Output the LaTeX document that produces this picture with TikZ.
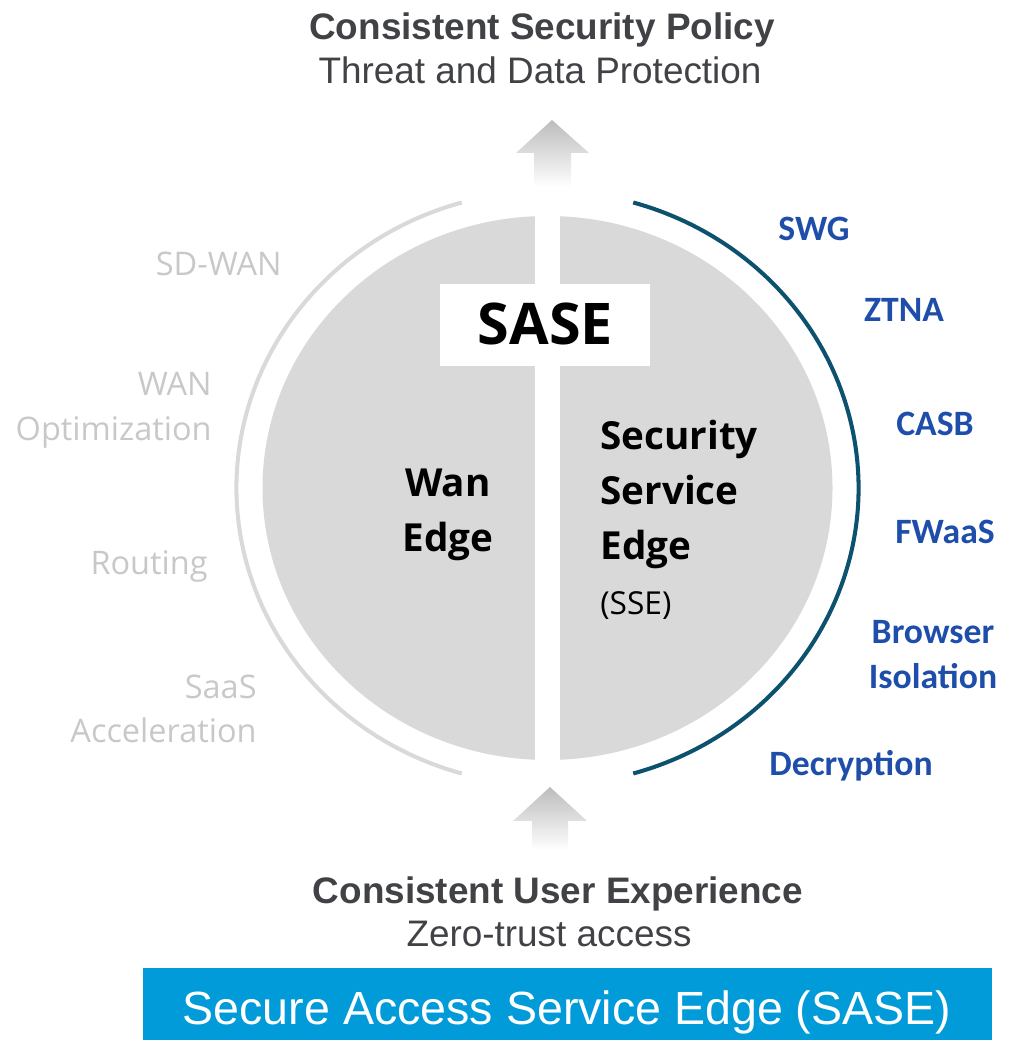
\documentclass[tikz,border=0pt]{standalone}
\usepackage{fontspec}
\setmainfont{Liberation Sans}
\newfontfamily\carl{Carlito}
\newfontfamily\opens{Open Sans}
\definecolor{titlegray}{RGB}{64,66,70}
\definecolor{circgray}{RGB}{217,217,217}
\definecolor{labgray}{RGB}{200,200,200}
\definecolor{ssearc}{RGB}{12,82,110}
\definecolor{sseblue}{RGB}{30,78,170}
\definecolor{arrowgray}{RGB}{188,188,188}
\definecolor{banner}{RGB}{0,155,216}
\begin{document}
\begin{tikzpicture}[x=0.02cm,y=0.02cm,
  titlebold/.style={font=\bfseries\fontsize{21pt}{25pt}\selectfont, text=titlegray, inner sep=0, anchor=base},
  titlereg/.style={font=\fontsize{21pt}{25pt}\selectfont, text=titlegray, inner sep=0, anchor=base},
  ssetool/.style={font=\carl\bfseries\fontsize{20.3pt}{24pt}\selectfont, text=sseblue, inner sep=0, anchor=base},
  wantool/.style={font=\opens\fontsize{18.5pt}{22pt}\selectfont, text=labgray, inner sep=0, anchor=base east},
  corelab/.style={font=\opens\bfseries\fontsize{22pt}{30pt}\selectfont, text=black, inner sep=0},
  uparrow/.style={top color=arrowgray, bottom color=white, draw=none}
]
\useasboundingbox (0,0) rectangle (1011,1040);
\coordinate (c) at (547.5,552);

% circle halves
\fill[circgray] (c) ellipse [x radius=285, y radius=272];
\fill[white] (535,260) rectangle (560,850);

% arcs
\draw[circgray, line width=2.3pt] ([shift={(106:311 and 297)}]c) arc[start angle=106, end angle=254, x radius=311, y radius=297];
\draw[ssearc, line width=2.3pt] ([shift={(-74:311 and 297)}]c) arc[start angle=-74, end angle=74, x radius=311, y radius=297];

% arrows
\shade[uparrow] (534,853) -- (534,887) -- (516,887) -- (552,920) -- (589,887) -- (571,887) -- (571,853) -- cycle;
\shade[uparrow] (532,190) -- (532,219) -- (513,219) -- (550,253) -- (587,219) -- (568,219) -- (568,190) -- cycle;

% SASE box
\fill[white] (440,674) rectangle (650,756);
\node[font=\opens\bfseries\fontsize{32.7pt}{36pt}\selectfont, inner sep=0, anchor=base] (sase) at (545.5,695) {SASE};

% core labels
\node[corelab, anchor=base] (wan1) at (448,543) {Wan};
\node[corelab, anchor=base] (wan2) at (448,488) {Edge};
\node[corelab, anchor=base west] (sse1) at (600,590) {Security};
\node[corelab, anchor=base west] (sse2) at (600,535) {Service};
\node[corelab, anchor=base west] (sse3) at (600,480) {Edge};
\node[font=\opens\fontsize{18pt}{22pt}\selectfont, inner sep=0, anchor=base west] (sse4) at (600,425) {(SSE)};

% titles
\node[titlebold] (top1) at (542,1000) {Consistent Security Policy};
\node[titlereg] (top2) at (540,956) {Threat and Data Protection};
\node[titlebold] (bot1) at (558,136) {Consistent User Experience};
\node[titlereg] (bot2) at (549,93) {Zero-trust access};

% WAN edge capabilities
\node[wantool] (sdwan) at (282,764) {SD-WAN};
\node[wantool] (wano1) at (212,644) {WAN};
\node[wantool] (wano2) at (212,599) {Optimization};
\node[wantool] (routing) at (208,465) {Routing};
\node[wantool] (saas1) at (257,341) {SaaS};
\node[wantool] (saas2) at (257,297) {Acceleration};

% SSE capabilities
\node[ssetool] (swg) at (814,799) {SWG};
\node[ssetool] (ztna) at (904,718) {ZTNA};
\node[ssetool] (casb) at (935,604) {CASB};
\node[ssetool] (fwaas) at (945,496) {FWaaS};
\node[ssetool] (rbi1) at (933,396) {Browser};
\node[ssetool] (rbi2) at (933,351) {Isolation};
\node[ssetool] (decr) at (851,264) {Decryption};

% banner
\fill[banner] (143,0) rectangle (992,72);
\node[font=\fontsize{26.5pt}{30pt}\selectfont, text=white, inner sep=0, anchor=base] (bannertxt) at (567,15) {Secure Access Service Edge (SASE)};
\end{tikzpicture}
\end{document}
